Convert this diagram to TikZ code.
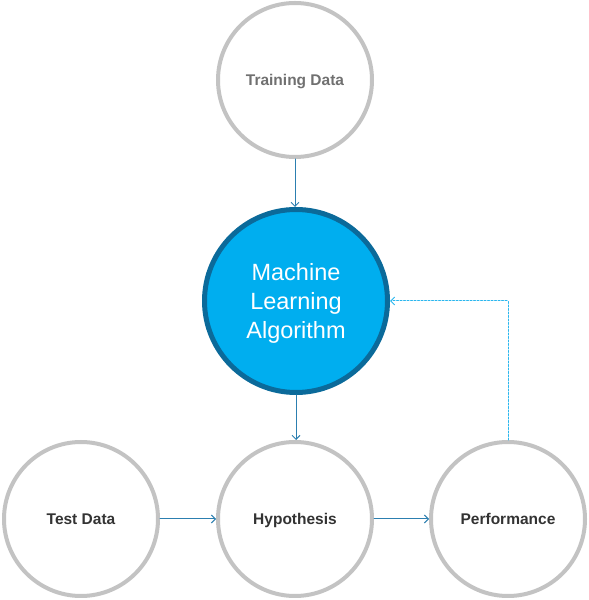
\documentclass[tikz,border=0pt]{standalone}
\usepackage{fontspec}
\setmainfont{Liberation Sans}
\usetikzlibrary{arrows.meta}
\definecolor{ringgray}{HTML}{C3C3C3}
\definecolor{mlblue}{HTML}{00AEEF}
\definecolor{mledge}{HTML}{0B6A9A}
\definecolor{arrowblue}{HTML}{2C7FB0}
\definecolor{dashblue}{HTML}{29B6EE}
\definecolor{labelgray}{HTML}{707070}
\definecolor{labeldark}{HTML}{333333}
\begin{document}
\begin{tikzpicture}[x=1pt,y=1pt,>={Straight Barb[length=4pt,width=8pt]}, line join=round, line cap=round,
	ring/.style={circle,draw=ringgray,line width=4pt,minimum size=154pt,inner sep=0pt,text height=11pt,text depth=0pt,font=\bfseries\fontsize{15.5}{18}\selectfont},
	link/.style={->,arrowblue,line width=1pt},
	feedback/.style={->,dashblue,line width=1pt,dash pattern=on 2pt off 1.5pt}]
	\useasboundingbox (0,0) rectangle (589,600);
	\node[ring,text=labelgray] (train) at (295,520) {Training Data};
	\node[circle,fill=mlblue,draw=mledge,line width=5pt,minimum size=183pt,inner sep=0pt,text depth=0pt,text=white,align=center,font=\fontsize{23.5}{29}\selectfont] (mla) at (296,299) {Machine\\Learning\\Algorithm};
	\node[ring,text=labeldark] (test) at (81,81) {Test Data};
	\node[ring,text=labeldark] (hyp) at (295,81) {Hypothesis};
	\node[ring,text=labeldark] (perf) at (508,81) {Performance};
\draw[link] (train) -- (train|-mla.north);
\draw[link] (mla) -- (mla|-hyp.north);
	\draw[link] (test) -- (hyp);
	\draw[link] (hyp) -- (perf);
\draw[feedback] (perf.north) |- (mla.east);
\end{tikzpicture}
\end{document}
